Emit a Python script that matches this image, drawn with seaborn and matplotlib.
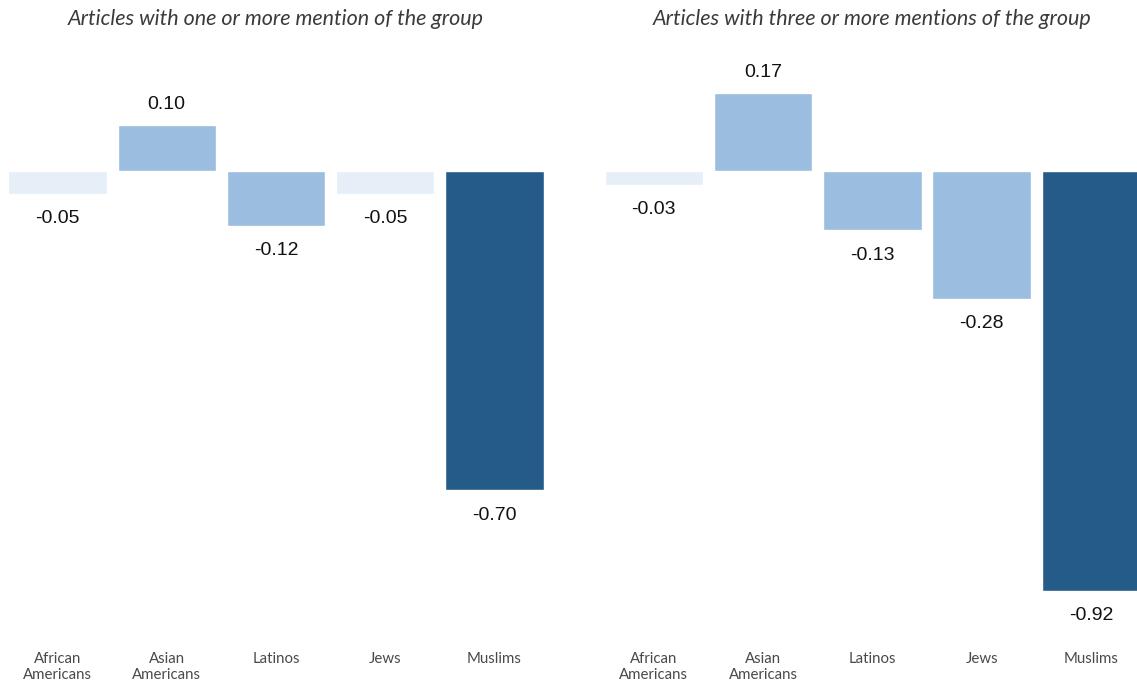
import pandas as pd
import matplotlib
matplotlib.use("Agg")
import matplotlib.pyplot as plt
import seaborn as sns

groups = ["African\nAmericans", "Asian\nAmericans", "Latinos", "Jews", "Muslims"]
titles = ["Articles with one or more mention of the group",
          "Articles with three or more mentions of the group"]
vals_one = [-0.05, 0.10, -0.12, -0.05, -0.70]
vals_three = [-0.03, 0.17, -0.13, -0.28, -0.92]
shade_one = ["light", "mid", "mid", "light", "dark"]
shade_three = ["light", "mid", "mid", "mid", "dark"]

palette = {"light": "#e6eff8", "mid": "#9bbde0", "dark": "#255b89"}

sns.set_theme(style="white")
plt.rcParams["font.family"] = ["Lato", "DejaVu Sans"]

fig = plt.figure(figsize=(11.37, 6.82), dpi=100)
# axes boxes in figure fractions (left, bottom, width, height)
boxes = [(0.0025, 0.0806, 0.4805, 0.8695), (0.527, 0.0806, 0.4805, 0.8695)]

for box, title, vals, shades in zip(boxes, titles, [vals_one, vals_three],
                                    [shade_one, shade_three]):
    ax = fig.add_axes(box)
    d = pd.DataFrame({"group": groups, "value": vals, "shade": shades})
    sns.barplot(data=d, x="group", y="value", hue="shade", palette=palette,
                dodge=False, width=0.9, legend=False, ax=ax, saturation=1)
    ax.set_ylim(-1.0, 0.3)
    ax.set_xlim(-0.5, 4.5)
    ax.set_xlabel("")
    ax.set_ylabel("")
    ax.set_yticks([])
    ax.tick_params(axis="x", length=0, pad=18, labelsize=10.8, labelcolor="#4a4a4a")
    for lab in ax.get_xticklabels():
        lab.set_linespacing(1.15)
    for s in ax.spines.values():
        s.set_visible(False)
    for i, v in enumerate(vals):
        ax.annotate(f"{v:.2f}", xy=(i, v), xytext=(0, 9 if v > 0 else -12),
                    textcoords="offset points", ha="center",
                    va="bottom" if v > 0 else "top", fontsize=14,
                    family="Liberation Sans", color="#111111")
    ax.annotate(title, xy=(0.5, 1.0), xycoords="axes fraction",
                xytext=(0, 11), textcoords="offset points", ha="center",
                va="center", fontsize=15.5, style="italic", color="#3a3a3a")

fig.savefig("out.png", dpi=100)
